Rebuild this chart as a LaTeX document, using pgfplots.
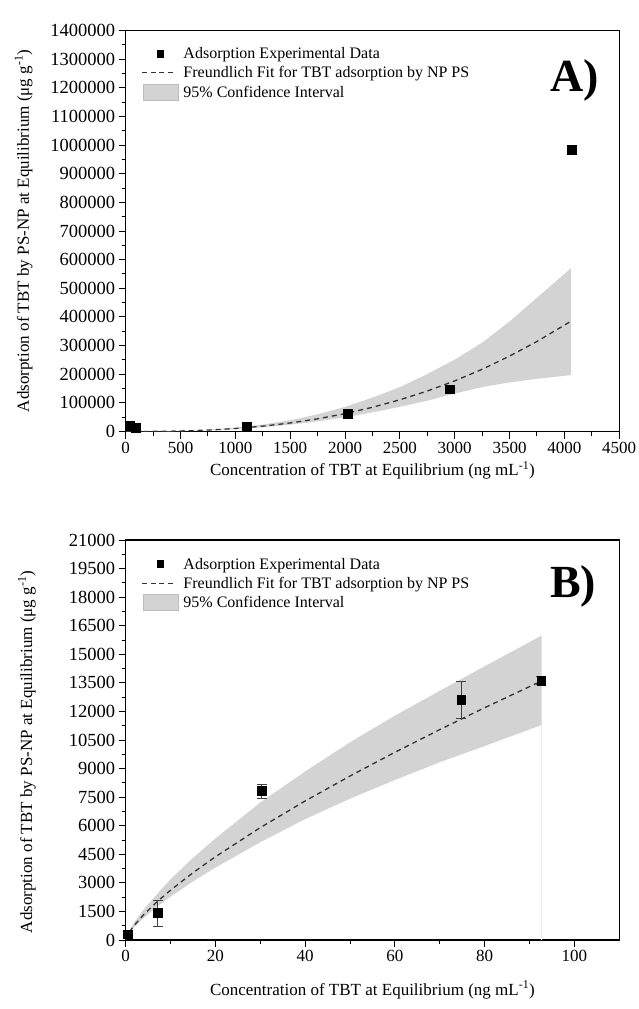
\documentclass[border=0pt]{standalone}
\usepackage{fontspec}
\setmainfont{Liberation Serif}
\usepackage{pgfplots}
\pgfplotsset{compat=1.18}
\definecolor{bandgray}{HTML}{D3D3D3}
\definecolor{bandedge}{HTML}{BDBDBD}
\definecolor{fitgray}{HTML}{333333}

\pgfplotsset{
  common/.style={
    scale only axis,
    axis line style={line width=1.3pt},
    tick align=outside, tick pos=left,
    major tick length=7pt, minor tick length=4pt,
    every tick/.style={black, line width=1pt},
    minor x tick num=1, minor y tick num=1,
    scaled ticks=false,
    /pgf/number format/.cd, fixed, 1000 sep={}, assume math mode=true, /pgfplots/.cd,
    x tick label style={font=\fontsize{17}{20}\selectfont},
    y tick label style={font=\fontsize{18.5}{20}\selectfont},
    label style={font=\fontsize{17}{20}\selectfont},
    legend style={draw=none, fill=none, font=\fontsize{16}{19}\selectfont,
      legend cell align=left, column sep=5pt, row sep=3pt, inner sep=0pt,
      nodes={inner sep=0pt}},
  },
  datamark/.style={only marks, mark=square*, mark size=4.4pt, mark options={fill=black, draw=black},
    legend image code/.code={\path[draw=none,fill=none] (0pt,-8pt) rectangle (36pt,8pt);
      \fill[black, draw=none] (14.5pt,-3.8pt) rectangle (22pt,3.8pt);}},
  fitline/.style={fitgray, line width=1.3pt, dash pattern=on 5pt off 4pt,
    legend image code/.code={\path[draw=none,fill=none] (0pt,-8pt) rectangle (36pt,8pt);
      \draw[fitgray, line width=1pt, dash pattern=on 5pt off 3.5pt] (0pt,0pt) -- (32pt,0pt);}},
  bandfill/.style={fill=bandgray, draw=none,
    legend image code/.code={\path[draw=none,fill=none] (0pt,-8pt) rectangle (36pt,8pt);
      \fill[bandgray, draw=bandedge, line width=0.6pt, solid] (1pt,-8pt) rectangle (36pt,8pt);}},
}

\begin{document}
\begin{tikzpicture}
\useasboundingbox (0,0) rectangle (638pt,-1009pt);

% ---------------- Panel A ----------------
\begin{axis}[common,
  at={(125.7pt,-431.5pt)}, anchor=south west,
  width=493.5pt, height=401pt,
  xmin=0, xmax=4500, ymin=0, ymax=1400000,
  xtick={0,500,...,4500},
  ytick={0,100000,200000,300000,400000,500000,600000,700000,800000,900000,1000000,1100000,1200000,1300000,1400000},
  xlabel={Concentration of TBT at Equilibrium (ng mL\textsuperscript{-1})},
  ylabel={Adsorption of TBT by PS-NP at Equilibrium (μg g\textsuperscript{-1})},
  xlabel style={at={(axis description cs:0.5,0)}, anchor=center, yshift=-39pt},
  ylabel style={at={(axis description cs:-0.207,0.5)}, anchor=center, rotate=0},
  legend style={at={(axis description cs:0.032,0.962)}, anchor=north west},
]
% confidence band: upper edge left to right, lower edge right to left
\addplot[bandfill, forget plot] coordinates {
(0,0) (200,210) (400,1246) (600,3530) (800,7410) (1000,13130) (1250,24230) (1500,39280)
(1750,59720) (2000,86070) (2250,118400) (2500,155000) (2750,200600) (3000,250900)
(3250,310000) (3500,384000) (3750,467000) (4060,570000)
(4060,197000) (3750,184000) (3500,171500) (3250,155000) (3000,132500) (2750,107400)
(2500,86370) (2250,66790) (2000,49900) (1750,35390) (1500,23810) (1250,14910)
(1000,8406) (800,4743) (600,2261) (400,798) (200,134) (0,0)} \closedcycle;

\addplot[datamark] coordinates {
(33,19200) (94,13000) (1101,16800) (2027,62000) (2953,148000) (4064,985000)};
\addlegendentry{Adsorption Experimental Data}

\addplot[fitline] coordinates {
(0,0) (200,168) (400,997) (600,2826) (800,5929) (1000,10507) (1250,18640) (1500,29760)
(1750,44240) (2000,62370) (2250,84550) (2500,110730) (2750,141300) (3000,176700)
(3250,217100) (3500,263300) (3750,314300) (4060,385000)};
\addlegendentry{Freundlich Fit for TBT adsorption by NP PS}

\addlegendimage{bandfill}
\addlegendentry{95\% Confidence Interval}

\node[anchor=base west, font=\fontsize{46}{46}\selectfont\bfseries] at (rel axis cs:0.853,0.847) {A)};
\end{axis}

% ---------------- Panel B ----------------
\begin{axis}[common,
  at={(125.7pt,-940pt)}, anchor=south west,
  width=493.5pt, height=400pt,
  xmin=0, xmax=110, ymin=0, ymax=21000,
  xtick={0,20,...,100},
  ytick={0,1500,...,21000},
  xlabel={Concentration of TBT at Equilibrium (ng mL\textsuperscript{-1})},
  ylabel={Adsorption of TBT by PS-NP at Equilibrium (μg g\textsuperscript{-1})},
  xlabel style={at={(axis description cs:0.5,0)}, anchor=center, yshift=-50pt},
  ylabel style={at={(axis description cs:-0.2,0.47)}, anchor=center, rotate=0},
  legend style={at={(axis description cs:0.032,0.96)}, anchor=north west},
]
\addplot[bandfill, forget plot] coordinates {
(0,0) (0.3,234) (1,571) (2,954) (4,1595) (7,2412) (10,3193) (15,4310) (20,5333)
(30,7220) (40,8850) (50,10380) (60,11780) (70,13080) (80,14370) (92.7,15980)
(92.7,11288) (80,10183) (70,9334) (60,8400) (50,7420) (40,6351) (30,5134) (20,3803)
(15,3074) (10,2277) (7,1749) (4,1156) (2,692) (1,414) (0.3,170) (0,0)} \closedcycle;

\addplot[black!8, line width=0.6pt, forget plot] coordinates {(92.7,0) (92.7,11288)};

\addplot[datamark,
  error bars/.cd, y dir=both, y explicit,
  error bar style={line width=0.6pt, black!75},
  error mark options={rotate=90, mark size=5pt, line width=0.6pt, black!75}]
  coordinates {
(0.45,300) +- (0,100)
(7.1,1420) +- (0,680)
(30.3,7820) +- (0,360)
(74.8,12600) +- (0,980)
(92.6,13630) +- (0,220)};
\addlegendentry{Adsorption Experimental Data}

\addplot[fitline] coordinates {
(0,0) (0.3,195) (1,476) (2,795) (4,1329) (7,2010) (10,2617) (15,3533) (20,4371)
(30,5901) (40,7300) (50,8609) (60,9856) (70,11046) (80,12195) (92.7,13600)};
\addlegendentry{Freundlich Fit for TBT adsorption by NP PS}

\addlegendimage{bandfill}
\addlegendentry{95\% Confidence Interval}

\node[anchor=base west, font=\fontsize{46}{46}\selectfont\bfseries] at (rel axis cs:0.853,0.8575) {B)};
\end{axis}
\end{tikzpicture}
\end{document}
